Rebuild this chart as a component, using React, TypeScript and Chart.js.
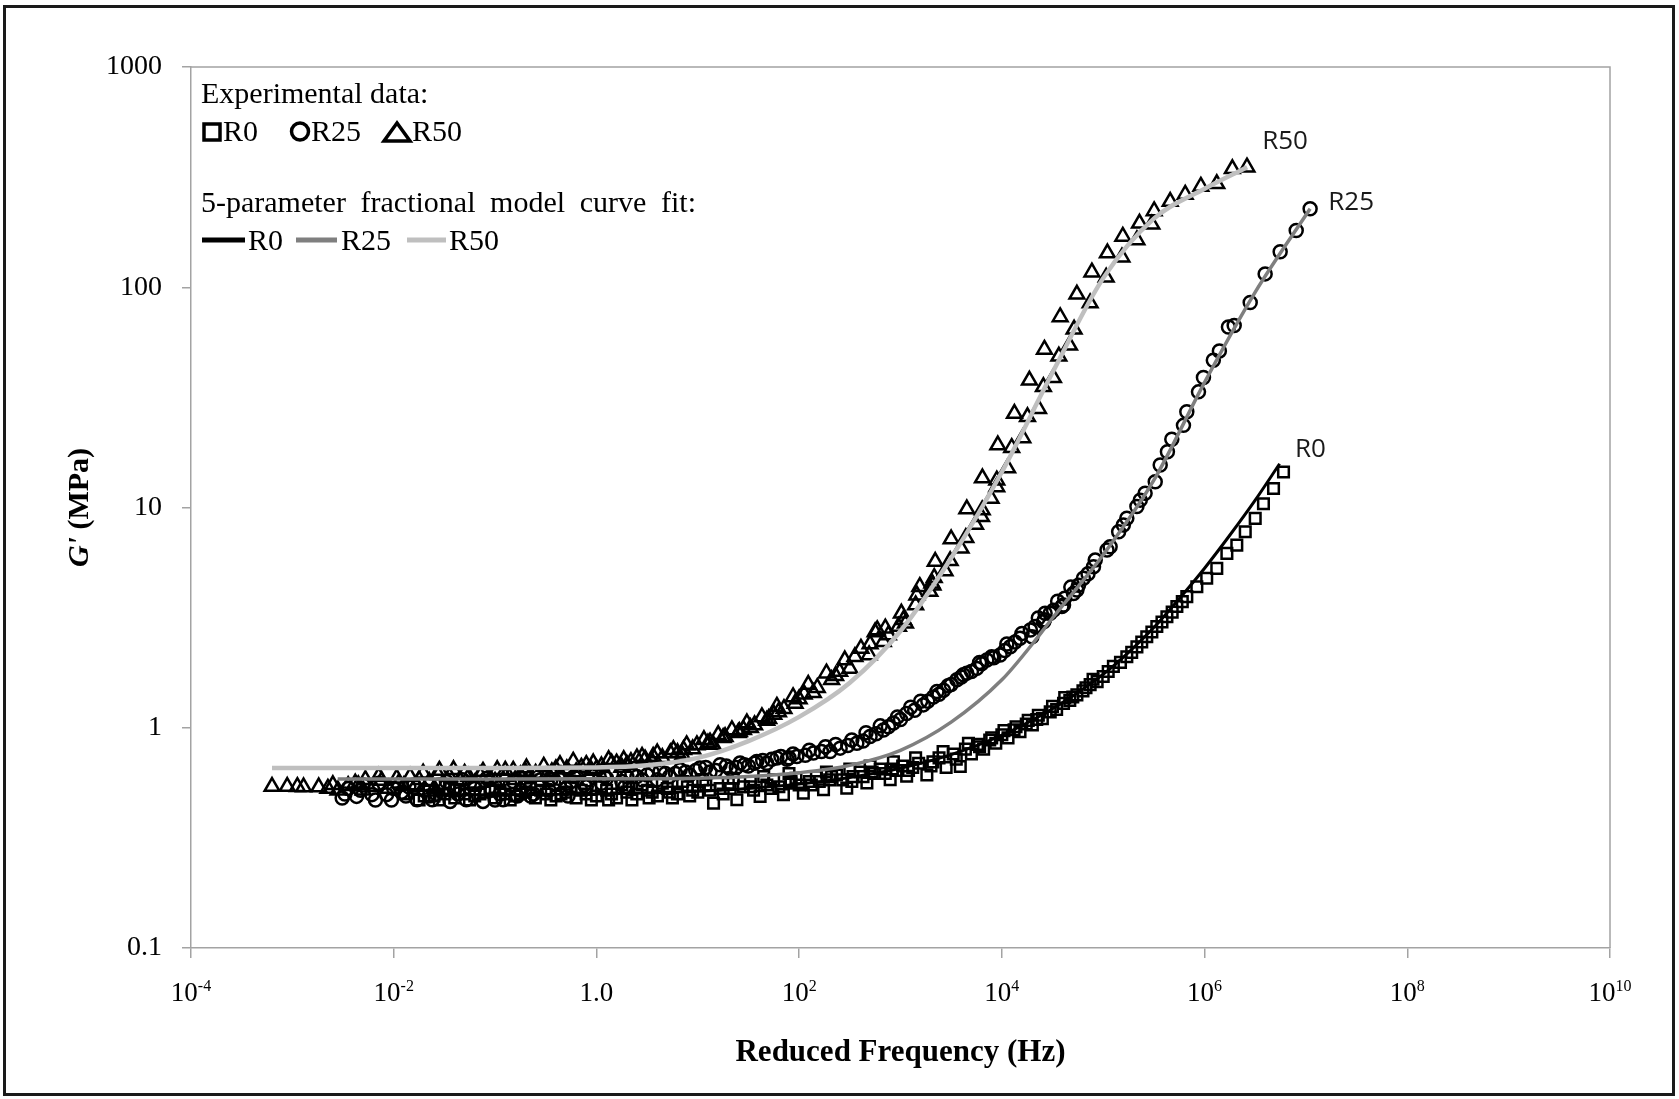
import React, { useEffect, useRef } from "react";
import { Chart, registerables } from "chart.js";
Chart.register(...registerables);

const W = 1679;
const H = 1099;

// ---------- Experimental data (frequency in Hz, G' in MPa) ----------
const r50Freq = [
  6.3e-4, 8.9e-4, 1.29e-3, 1.82e-3, 2.51e-3, 3.55e-3, 5.25e-3, 5.0e-3, 7.6e-3, 8.9e-3,
  1.07e-2, 1.26e-2, 1.45e-2, 1.66e-2, 1.95e-2, 2.24e-2, 2.75e-2, 3.16e-2, 3.89e-2, 4.47e-2,
  5.5e-2, 6.3e-2, 7.6e-2, 8.9e-2, 0.105, 0.126, 0.151, 0.178, 0.204, 0.251,
  0.302, 0.363, 0.437, 0.51, 0.59, 0.71, 0.93, 1.12, 1.32, 1.58,
  1.86, 2.19, 2.51, 3.02, 3.63, 3.98, 5.37, 5.75, 7.24, 7.76,
  9.8, 11.5, 13.2, 15.9, 18.6, 21.7, 25.7, 30.5, 36.3, 42.9,
  50.1, 60.3, 62.5, 87.1, 91.2, 123, 138, 186, 209, 282,
  316, 407, 490, 562, 589, 676, 708, 759, 955, 1020,
  1070, 1120, 1410, 1450, 1550, 1950, 2040, 2090, 2150, 2200,
  2750, 3090, 3160, 3960, 4410, 4510, 5500, 6300, 6400, 6430,
  7830, 8910, 8900, 9120, 11400, 12500, 13300, 16100, 17900, 18700,
  23000, 25700, 26300, 32300, 36500, 37600, 46500, 51600, 55000, 74300,
  77300, 107000, 110000, 153000, 156000, 215000, 228000, 302000, 318000, 458000,
  644000, 919000, 1.32e6, 1.88e6, 2.62e6,
];
const r50G = [
  0.541, 0.541, 0.538, 0.538, 0.551, 0.546, 0.581, 0.52, 0.576, 0.53,
  0.59, 0.545, 0.6, 0.55, 0.622, 0.57, 0.61, 0.55, 0.644, 0.58,
  0.6, 0.56, 0.633, 0.59, 0.644, 0.6, 0.64, 0.61, 0.656, 0.62,
  0.667, 0.63, 0.679, 0.65, 0.703, 0.66, 0.691, 0.67, 0.715, 0.69,
  0.715, 0.7, 0.728, 0.72, 0.74, 0.767, 0.767, 0.794, 0.794, 0.836,
  0.836, 0.881, 0.86, 0.929, 0.91, 0.978, 0.96, 1.05, 1.03, 1.12,
  1.1, 1.25, 1.18, 1.38, 1.29, 1.57, 1.44, 1.77, 1.65, 2.03,
  1.86, 2.29, 2.14, 2.72, 2.78, 2.46, 2.83, 2.64, 2.88, 3.31,
  3.09, 2.98, 3.61, 4.0, 4.37, 4.15, 4.53, 4.44, 4.8, 5.68,
  5.15, 5.73, 7.19, 6.53, 7.29, 9.84, 8.38, 9.07, 9.73, 13.6,
  11.0, 13.3, 12.4, 19.2, 15.1, 18.7, 26.7, 20.7, 25.8, 37.8,
  28.1, 35.3, 52.2, 38.8, 48.6, 73.3, 54.5, 64.4, 92.9, 84.8,
  117, 111, 143, 137, 170, 164, 195, 193, 222, 245,
  264, 287, 295, 345, 351,
];
// additional overlapping sweeps (R50)
const r50FreqB = [
  2.82e-3, 4.17e-3, 6.3e-3, 2.51e-2, 3.55e-2, 5.0e-2, 0.1, 0.158, 0.219, 0.316,
  0.398, 0.631, 0.794, 1.0, 1.41, 2.0, 2.82, 4.47, 6.31, 8.91,
  12.6, 17.8, 25.1, 33.1, 47.9, 70.8, 100, 151, 229, 355, 501,
];
const r50GB = [
  0.52, 0.56, 0.54, 0.53, 0.6, 0.62, 0.57, 0.58, 0.6, 0.6,
  0.65, 0.63, 0.68, 0.65, 0.69, 0.68, 0.74, 0.73, 0.77, 0.8,
  0.85, 0.9, 0.95, 1.0, 1.08, 1.22, 1.35, 1.52, 1.72, 2.1, 2.4,
];
const r50FreqC = [
  1.12e-3, 2.24e-3, 4.47e-3, 7.1e-3, 1.12e-2, 1.78e-2, 2.82e-2, 7.1e-2, 0.126, 0.2,
  0.447, 0.891, 1.78, 3.55, 7.08, 14.1, 28.2, 56.2, 112, 251,
];
const r50GC = [
  0.54, 0.53, 0.55, 0.6, 0.56, 0.58, 0.64, 0.61, 0.64, 0.63,
  0.61, 0.64, 0.66, 0.7, 0.75, 0.84, 0.98, 1.15, 1.42, 1.8,
];

const r25Freq = [
  3.1e-3, 4.3e-3, 6.1e-3, 8.5e-3, 1.0e-2, 1.2e-2, 1.41e-2, 1.7e-2, 2.0e-2, 2.4e-2,
  2.8e-2, 3.6e-2, 4.3e-2, 5.2e-2, 6.3e-2, 7.6e-2, 9.3e-2, 0.12, 0.141, 0.166,
  0.2, 0.24, 0.28, 0.34, 0.42, 0.5, 0.6, 0.76, 0.89, 1.12,
  1.41, 1.78, 2.24, 2.82, 3.55, 4.25, 5.25, 6.7, 8.3, 10.5,
  13.2, 16.6, 20.9, 26.1, 31.6, 38.2, 47.9, 60.3, 75.9, 94.9,
  115, 138, 166, 202, 254, 302, 371, 427, 501, 575,
  679, 759, 851, 1000, 1150, 1380, 1680, 1860, 2110, 2400,
  2660, 3160, 3600, 3980, 4510, 5010, 5660, 6310, 7110, 8320,
  9620, 10700, 12100, 13500, 15100, 19100, 19800, 21300, 25800, 26300,
  26700, 30000, 32400, 39100, 40600, 41700, 50900, 55000, 57000, 63800,
  80200, 83400, 109000, 117000, 142000, 158000, 171000, 215000, 232000, 259000,
  326000, 365000, 430000, 475000, 619000, 668000, 871000, 975000, 1.22e6, 1.4e6,
  1.72e6, 1.96e6, 2.82e6, 3.96e6, 5.57e6, 8.02e6, 1.1e7,
];
const r25G = [
  0.48, 0.488, 0.497, 0.497, 0.53, 0.51, 0.54, 0.471, 0.52, 0.471,
  0.55, 0.463, 0.5, 0.471, 0.53, 0.463, 0.52, 0.471, 0.55, 0.49,
  0.57, 0.5, 0.58, 0.52, 0.59, 0.53, 0.6, 0.55, 0.61, 0.56,
  0.62, 0.57, 0.62, 0.58, 0.63, 0.633, 0.6, 0.644, 0.61, 0.656,
  0.63, 0.679, 0.65, 0.691, 0.67, 0.703, 0.69, 0.728, 0.72, 0.74,
  0.75, 0.767, 0.78, 0.78, 0.808, 0.83, 0.851, 0.87, 0.912, 0.94,
  0.977, 1.01, 1.05, 1.09, 1.16, 1.2, 1.27, 1.32, 1.38, 1.42,
  1.48, 1.57, 1.65, 1.7, 1.77, 1.8, 1.86, 1.95, 2.03, 2.08,
  2.14, 2.24, 2.33, 2.45, 2.55, 2.78, 2.59, 2.88, 3.03, 3.09,
  3.31, 3.31, 3.42, 3.55, 3.61, 3.87, 4.07, 4.22, 4.44, 4.77,
  5.38, 5.77, 6.41, 6.64, 7.76, 8.32, 8.93, 10.1, 10.8, 11.6,
  13.1, 15.6, 17.9, 20.4, 23.6, 27.2, 33.5, 38.9, 46.6, 51.4,
  66.0, 67.1, 85.2, 115, 145, 181, 227,
];
// additional overlapping sweeps (R25)
const r25FreqB = [
  3.55e-3, 5.0e-3, 7.1e-3, 1.32e-2, 2.63e-2, 3.31e-2, 4.79e-2, 8.3e-2, 0.112, 0.178,
  0.263, 0.38, 0.562, 0.832, 1.26, 2.0, 3.16, 4.79, 7.59, 12.0,
  19.1, 28.8, 43.7, 66.1, 87.1, 126, 182, 229, 331, 457,
  631, 933, 1260, 1580, 2290, 2950, 4170, 6030, 7940, 11200,
  15800, 22900, 35500, 47900, 70800,
];
const r25GB = [
  0.53, 0.55, 0.56, 0.49, 0.5, 0.57, 0.58, 0.59, 0.5, 0.52,
  0.55, 0.56, 0.57, 0.58, 0.59, 0.6, 0.61, 0.62, 0.63, 0.66,
  0.67, 0.68, 0.71, 0.74, 0.76, 0.79, 0.82, 0.84, 0.88, 0.95,
  1.02, 1.12, 1.24, 1.32, 1.46, 1.55, 1.74, 1.98, 2.1, 2.4,
  2.68, 3.15, 3.75, 4.35, 5.0,
];
const r25FreqC = [
  3.3e-3, 4.7e-3, 6.6e-3, 9.5e-3, 1.58e-2, 2.24e-2, 3.98e-2, 5.6e-2, 0.1, 0.151,
  0.224, 0.355, 0.525, 0.794, 1.2, 1.91, 2.51, 3.98, 6.03, 9.55,
  15.1, 24.0, 36.3, 53.7, 79.4,
];
const r25GC = [
  0.5, 0.52, 0.47, 0.47, 0.55, 0.49, 0.52, 0.56, 0.47, 0.57,
  0.49, 0.58, 0.49, 0.54, 0.6, 0.54, 0.6, 0.58, 0.62, 0.64,
  0.64, 0.66, 0.69, 0.72, 0.73,
];

const r0Freq = [
  2.5e-2, 3.2e-2, 4.0e-2, 5.0e-2, 6.3e-2, 7.9e-2, 0.1, 0.126, 0.158, 0.2,
  0.25, 0.32, 0.4, 0.5, 0.63, 0.79, 1.0, 1.26, 1.58, 2.0,
  2.5, 3.2, 4.0, 5.0, 6.3, 7.9, 10, 12, 14.3, 16.6,
  20, 24.3, 28.2, 33, 41.2, 48, 56, 70, 83, 93,
  110, 126, 148, 174, 200, 234, 295, 340, 400, 466,
  550, 630, 791, 912, 1050, 1150, 1320, 1510, 1820, 2090,
  2400, 2820, 3310, 3890, 4370, 5010, 5750, 6610, 7590, 8710,
  10000, 11500, 13200, 15100, 17400, 20000, 22100, 25100, 30000, 34700,
  40600, 46800, 55000, 63100, 74300, 87100, 100000, 112000, 126000, 148000,
  171000, 191000, 215000, 240000, 269000, 302000, 338000, 380000, 425000, 479000,
  533000, 603000, 668000, 839000, 1.05e6, 1.32e6, 1.66e6, 2.08e6, 2.52e6, 3.16e6,
  3.81e6, 4.79e6, 6.01e6,
];
const r0G = [
  0.49, 0.5, 0.48, 0.5, 0.49, 0.51, 0.48, 0.5, 0.49, 0.51,
  0.48, 0.5, 0.49, 0.51, 0.48, 0.5, 0.49, 0.52, 0.48, 0.51,
  0.5, 0.52, 0.49, 0.53, 0.5, 0.54, 0.51, 0.55, 0.455, 0.53,
  0.56, 0.471, 0.54, 0.57, 0.488, 0.55, 0.58, 0.497, 0.56, 0.59,
  0.505, 0.57, 0.6, 0.523, 0.58, 0.61, 0.532, 0.6, 0.63, 0.561,
  0.62, 0.65, 0.581, 0.64, 0.67, 0.602, 0.66, 0.69, 0.611, 0.7,
  0.73, 0.66, 0.76, 0.667, 0.8, 0.76, 0.84, 0.8, 0.88, 0.85,
  0.93, 0.9, 0.98, 0.96, 1.04, 1.03, 1.09, 1.1, 1.18, 1.21,
  1.29, 1.33, 1.41, 1.47, 1.57, 1.62, 1.71, 1.8, 1.9, 1.98,
  2.1, 2.2, 2.33, 2.45, 2.59, 2.72, 2.88, 3.02, 3.19, 3.35,
  3.55, 3.74, 3.94, 4.37, 4.77, 5.29, 6.19, 6.75, 7.76, 8.93,
  10.4, 12.2, 14.5,
];
// additional overlapping sweeps (R0)
const r0FreqB = [
  1.78e-2, 2.24e-2, 3.55e-2, 5.6e-2, 8.9e-2, 0.141, 0.224, 0.355, 0.562, 0.891,
  1.12, 1.41, 1.78, 2.24, 2.82, 3.55, 4.47, 5.62, 7.08, 8.91,
  11.2, 17.8, 22.4, 35.5, 44.7, 63.1, 79.4, 100, 158, 186,
  269, 316, 427, 501, 708, 851, 1200, 1410, 2000, 2630,
  3550, 4680, 6030, 7940, 10500, 13800, 18200, 22900, 31600, 41700,
  50100, 67600, 79400,
];
const r0GB = [
  0.47, 0.52, 0.53, 0.47, 0.53, 0.47, 0.53, 0.47, 0.54, 0.47,
  0.54, 0.5, 0.55, 0.47, 0.55, 0.51, 0.56, 0.48, 0.57, 0.52,
  0.58, 0.5, 0.59, 0.52, 0.6, 0.54, 0.62, 0.55, 0.57, 0.63,
  0.58, 0.65, 0.6, 0.67, 0.62, 0.7, 0.64, 0.73, 0.67, 0.78,
  0.72, 0.85, 0.82, 0.9, 0.97, 1.01, 1.08, 1.14, 1.25, 1.37,
  1.38, 1.52, 1.66,
];
const r0FreqC = [
  1.26e-2, 2.0e-2, 2.82e-2, 4.47e-2, 7.1e-2, 0.112, 0.178, 0.282, 0.447, 0.708,
  1.32, 2.09, 3.31, 5.25, 8.32, 13.2, 20.9, 33.1, 52.5, 83.2,
  132, 209, 331, 525, 832,
];
const r0GC = [
  0.5, 0.49, 0.47, 0.52, 0.5, 0.52, 0.5, 0.52, 0.5, 0.52,
  0.47, 0.53, 0.48, 0.51, 0.49, 0.52, 0.53, 0.54, 0.53, 0.57,
  0.55, 0.6, 0.57, 0.63, 0.65,
];

// ---------- 5-parameter fractional model curve fits ----------
const r0FitFreq = [2.5e-2, 0.1, 1, 3.16, 10, 31.6, 100, 316, 1000, 3160, 1e4, 31600, 1e5, 178000, 316000, 562000, 1e6, 1.78e6, 3.16e6, 5.5e6];
const r0FitG = [0.495, 0.496, 0.5, 0.505, 0.515, 0.53, 0.555, 0.595, 0.655, 0.755, 0.925, 1.22, 1.75, 2.2, 2.85, 3.85, 5.3, 7.5, 10.8, 15.8];

const r25FitFreq = [2.8e-3, 0.1, 1, 10, 31.6, 100, 316, 1000, 3160, 1e4, 2e4, 31600, 1e5, 316000, 1e6, 3.16e6, 1.1e7];
const r25FitG = [0.585, 0.585, 0.586, 0.59, 0.6, 0.625, 0.675, 0.79, 1.06, 1.65, 2.4, 3.15, 6.1, 13.3, 37, 95, 227];

const r50FitFreq = [6.3e-4, 1e-2, 0.1, 1, 3.16, 10, 31.6, 100, 316, 1000, 3160, 1e4, 31600, 1e5, 316000, 1e6, 2.63e6];
const r50FitG = [0.656, 0.656, 0.657, 0.66, 0.675, 0.73, 0.87, 1.12, 1.6, 2.75, 5.9, 14.5, 41, 110, 205, 280, 351];

// ---------- axes & text ----------
const yTicks = [0.1, 1, 10, 100, 1000];
const yTickLabels = ["0.1", "1", "10", "100", "1000"];
const xTicks = [1e-4, 1e-2, 1, 1e2, 1e4, 1e6, 1e8, 1e10];
const xTickBase = ["10", "10", "1.0", "10", "10", "10", "10", "10"];
const xTickExp = ["-4", "-2", "", "2", "4", "6", "8", "10"];
const xTitle = "Reduced Frequency (Hz)";
const yTitleItalic = "G'";
const yTitleRest = " (MPa)";
const legendLine1 = "Experimental data:";
const legendLine3 = "5-parameter fractional model curve fit:";
const seriesNames = ["R0", "R25", "R50"];
const curveLabelText = ["R50", "R25", "R0"];
const curveLabelFreq = [3.7e6, 1.66e7, 7.8e6];
const curveLabelG = [459, 243, 18.4];

const AXIS = "#a3a3a3";
const FIT_COLORS = ["#000000", "#7f7f7f", "#bfbfbf"];
const SERIF = '"Liberation Serif", "Times New Roman", serif';
const MARK_W = 2.5;

function pts(xs: number[], ys: number[]) {
  return xs.map((x, i) => ({ x, y: ys[i] }));
}

const decorPlugin = {
  id: "decor",
  beforeDraw(chart: any) {
    const ctx = chart.ctx;
    ctx.save();
    ctx.fillStyle = "#ffffff";
    ctx.fillRect(0, 0, chart.width, chart.height);
    ctx.restore();
  },
  afterDatasetsDraw(chart: any) {
    const ctx = chart.ctx;
    const { left, right, top, bottom } = chart.chartArea;
    const xs = chart.scales.x;
    const ys = chart.scales.y;
    ctx.save();

    // plot area border (top & right)
    ctx.strokeStyle = AXIS;
    ctx.lineWidth = 1.5;
    ctx.beginPath();
    ctx.moveTo(left, top);
    ctx.lineTo(right, top);
    ctx.lineTo(right, bottom);
    ctx.stroke();

    // x tick labels with superscripts
    ctx.fillStyle = "#000";
    ctx.textBaseline = "alphabetic";
    xTicks.forEach((v, i) => {
      const px = xs.getPixelForValue(v);
      ctx.font = `27px ${SERIF}`;
      const bw = ctx.measureText(xTickBase[i]).width;
      ctx.font = `16px ${SERIF}`;
      const ew = xTickExp[i] ? ctx.measureText(xTickExp[i]).width : 0;
      const start = px - (bw + ew) / 2;
      ctx.font = `27px ${SERIF}`;
      ctx.textAlign = "left";
      ctx.fillText(xTickBase[i], start, 1001);
      if (xTickExp[i]) {
        ctx.font = `16px ${SERIF}`;
        ctx.fillText(xTickExp[i], start + bw, 991);
      }
    });

    // x title
    ctx.font = `bold 31px ${SERIF}`;
    ctx.textAlign = "center";
    ctx.fillText(xTitle, (left + right) / 2, 1061);

    // y title (rotated)
    ctx.save();
    ctx.translate(80, (top + bottom) / 2);
    ctx.rotate(-Math.PI / 2);
    ctx.font = `italic bold 30px ${SERIF}`;
    const w1 = ctx.measureText(yTitleItalic).width;
    ctx.font = `bold 30px ${SERIF}`;
    const w2 = ctx.measureText(yTitleRest).width;
    ctx.textAlign = "left";
    ctx.textBaseline = "middle";
    ctx.font = `italic bold 30px ${SERIF}`;
    ctx.fillText(yTitleItalic, -(w1 + w2) / 2, 0);
    ctx.font = `bold 30px ${SERIF}`;
    ctx.fillText(yTitleRest, -(w1 + w2) / 2 + w1, 0);
    ctx.restore();

    // curve labels
    ctx.font = '26px "Open Sans", "DejaVu Sans", sans-serif';
    ctx.textAlign = "left";
    ctx.textBaseline = "middle";
    ctx.fillStyle = "#1a1a1a";
    curveLabelText.forEach((t, i) => {
      ctx.fillText(t, xs.getPixelForValue(curveLabelFreq[i]), ys.getPixelForValue(curveLabelG[i]));
    });

    // legend
    const lx = left + 10;
    ctx.fillStyle = "#000";
    ctx.textBaseline = "alphabetic";
    ctx.font = `30px ${SERIF}`;
    ctx.fillText(legendLine1, lx, 103);

    ctx.strokeStyle = "#000";
    ctx.lineWidth = 3.5;
    ctx.strokeRect(lx + 3, 124, 16, 16);
    ctx.fillText(seriesNames[0], lx + 22, 141);
    ctx.beginPath();
    ctx.arc(lx + 99, 131.5, 8.5, 0, Math.PI * 2);
    ctx.stroke();
    ctx.fillText(seriesNames[1], lx + 110, 141);
    ctx.beginPath();
    ctx.moveTo(lx + 196, 123);
    ctx.lineTo(lx + 183, 141);
    ctx.lineTo(lx + 209, 141);
    ctx.closePath();
    ctx.stroke();
    ctx.fillText(seriesNames[2], lx + 211, 141);

    // justified fit title
    const words = legendLine3.split(" ");
    const widths = words.map((w) => ctx.measureText(w).width);
    const total = widths.reduce((a, b) => a + b, 0);
    const gap = (495 - total) / (words.length - 1);
    let cx = lx;
    words.forEach((w, i) => {
      ctx.fillText(w, cx, 212);
      cx += widths[i] + gap;
    });

    const segs = [
      [lx + 1, lx + 44, lx + 47],
      [lx + 95, lx + 136, lx + 140],
      [lx + 206, lx + 245, lx + 248],
    ];
    segs.forEach((s, i) => {
      ctx.strokeStyle = FIT_COLORS[i];
      ctx.lineWidth = 5;
      ctx.beginPath();
      ctx.moveTo(s[0], 240);
      ctx.lineTo(s[1], 240);
      ctx.stroke();
      ctx.fillText(seriesNames[i], s[2], 250);
    });

    // outer frame
    ctx.strokeStyle = "#1a1a1a";
    ctx.lineWidth = 3;
    ctx.strokeRect(4.5, 6.5, 1669, 1088);
    ctx.restore();
  },
};

export default function App() {
  const ref = useRef<HTMLCanvasElement | null>(null);
  useEffect(() => {
    if (!ref.current) return;
    const markerBase = {
      borderColor: "#000",
      borderWidth: MARK_W,
      backgroundColor: "rgba(0,0,0,0)",
    };
    const chart = new Chart(ref.current, {
      type: "scatter",
      data: {
        datasets: [
          {
            label: "R0 fit",
            data: pts(r0FitFreq, r0FitG),
            showLine: true,
            borderColor: FIT_COLORS[0],
            borderWidth: 3,
            pointRadius: 0,
            cubicInterpolationMode: "monotone",
            order: 1,
          },
          {
            label: "R25 fit",
            data: pts(r25FitFreq, r25FitG),
            showLine: true,
            borderColor: FIT_COLORS[1],
            borderWidth: 3.5,
            pointRadius: 0,
            cubicInterpolationMode: "monotone",
            order: 2,
          },
          {
            label: "R50 fit",
            data: pts(r50FitFreq, r50FitG),
            showLine: true,
            borderColor: FIT_COLORS[2],
            borderWidth: 4.5,
            pointRadius: 0,
            cubicInterpolationMode: "monotone",
            order: 3,
          },
          {
            label: "R0",
            data: pts(r0Freq, r0G).concat(pts(r0FreqB, r0GB), pts(r0FreqC, r0GC)),
            pointStyle: "rect",
            pointRadius: 7.5,
            ...markerBase,
            order: 4,
          },
          {
            label: "R25",
            data: pts(r25Freq, r25G).concat(pts(r25FreqB, r25GB), pts(r25FreqC, r25GC)),
            pointStyle: "circle",
            pointRadius: 6.5,
            ...markerBase,
            order: 5,
          },
          {
            label: "R50",
            data: pts(r50Freq, r50G).concat(pts(r50FreqB, r50GB), pts(r50FreqC, r50GC)),
            pointStyle: "triangle",
            pointRadius: 8.5,
            ...markerBase,
            order: 6,
          },
        ],
      },
      options: {
        animation: false,
        responsive: false,
        maintainAspectRatio: false,
        devicePixelRatio: 1,
        events: [],
        layout: { padding: { left: 8, right: 69, top: 67, bottom: 0 } },
        plugins: {
          legend: { display: false },
          title: { display: false },
          tooltip: { enabled: false },
        },
        scales: {
          x: {
            type: "logarithmic",
            position: "bottom",
            min: 1e-4,
            max: 1e10,
            afterBuildTicks: (s: any) => {
              s.ticks = xTicks.map((v) => ({ value: v }));
            },
            afterFit: (s: any) => {
              s.height = 151;
            },
            ticks: { display: false },
            grid: { drawOnChartArea: false, drawTicks: true, tickLength: 10, color: AXIS, lineWidth: 1.5 },
            border: { display: true, color: AXIS, width: 1.5 },
          },
          y: {
            type: "logarithmic",
            position: "left",
            min: 0.1,
            max: 1000,
            afterBuildTicks: (s: any) => {
              s.ticks = yTicks.map((v) => ({ value: v }));
            },
            afterFit: (s: any) => {
              s.width = 183;
            },
            ticks: {
              font: { family: "Liberation Serif", size: 28 },
              color: "#000",
              padding: 20,
              callback: (v: any) => {
                const i = yTicks.indexOf(Number(v));
                return i >= 0 ? yTickLabels[i] : "";
              },
            },
            grid: { drawOnChartArea: false, drawTicks: true, tickLength: 9, color: AXIS, lineWidth: 1.5 },
            border: { display: true, color: AXIS, width: 1.5 },
          },
        },
      },
      plugins: [decorPlugin],
    } as any);
    return () => chart.destroy();
  }, []);

  return (
    <div style={{ position: "fixed", left: 0, top: 0, width: W, height: H, background: "#fff" }}>
      <canvas ref={ref} width={W} height={H} style={{ display: "block", width: W, height: H }} />
    </div>
  );
}
